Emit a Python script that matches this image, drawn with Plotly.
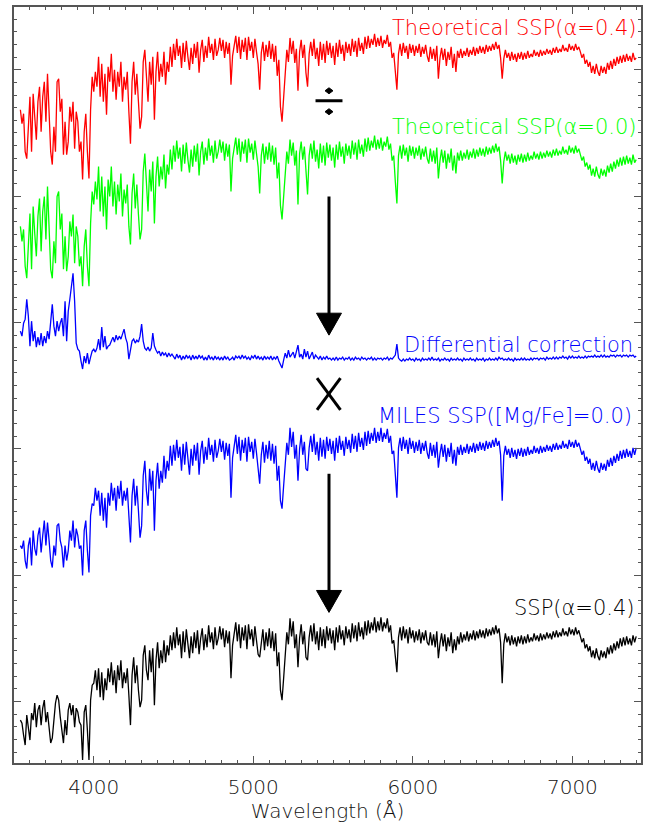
import plotly.graph_objects as go

# ---------------- data (flux in arbitrary offset units) ----------------
wavelength = list(range(3540, 7401, 10))

# --- Theoretical SSP(alpha=0.4)
flux_theo_a04_blue = [
    69.2, 67.8, 68.8, 65.0, 64.3, 67.0, 70.5, 65.0, 70.8, 68.5,
    66.2, 70.0, 71.5, 67.0, 70.5, 72.0, 68.0, 72.8, 69.0, 65.0,
    63.7, 67.5, 65.0, 72.0, 72.3, 69.0, 70.3, 64.7, 68.0, 64.7,
    66.0, 69.5, 68.0, 70.0, 65.3, 69.0, 68.0, 65.0, 66.0, 62.2,
    67.0, 68.8, 65.0, 62.3, 69.2, 72.5, 71.0, 73.0, 71.5, 74.5,
    70.5, 73.8, 70.0, 72.8, 68.7, 73.5, 72.0, 74.8, 71.0, 73.2,
    70.2, 73.0, 71.5, 74.0, 70.0, 72.5, 71.2, 73.0, 69.0, 65.8,
    72.0, 74.0, 70.7, 72.8, 70.0, 67.3, 68.5, 74.0, 75.2, 72.0,
    70.0, 74.0, 71.7, 74.5, 68.2, 73.0, 75.0, 72.0, 73.8, 72.5,
    75.0, 71.7, 74.0, 73.0, 75.5, 73.5,
]
flux_theo_a04_red = [
    75.8, 74.2, 76.3, 74.6, 75.6, 73.4, 75.9, 74.0, 76.1, 74.5,
    73.2, 75.4, 73.8, 75.8, 74.4, 76.0, 72.9, 75.2, 76.2, 74.0,
    75.6, 74.4, 76.5, 74.9, 75.8, 74.2, 76.3, 74.6, 75.2, 76.4,
    75.1, 76.2, 74.4, 76.0, 74.8, 75.9, 71.7, 74.6, 75.8, 76.6,
    74.9, 76.5, 74.3, 76.2, 75.0, 76.4, 74.2, 76.5, 75.1, 76.0,
    74.4, 76.3, 75.0, 73.8, 71.2, 74.9, 76.0, 74.1, 75.7, 74.5,
    76.1, 74.3, 75.8, 74.0, 75.6, 72.6, 74.2, 69.5, 68.0, 70.2,
    73.0, 75.2, 74.0, 76.4, 74.8, 76.1, 73.9, 75.3, 71.1, 75.0,
    76.2, 74.4, 75.7, 72.9, 71.5, 74.8, 76.0, 74.6, 76.3, 74.3,
    75.4, 73.6, 76.0, 74.2, 75.8, 73.9, 76.1, 74.7, 75.9, 74.4,
    75.6, 73.7, 75.9, 74.5, 76.2, 74.8, 75.7, 74.1, 76.0, 74.9,
    75.8, 74.6, 76.3, 75.0, 76.1, 74.5, 76.4, 75.1, 75.9, 74.8,
    76.5, 75.3, 76.6, 75.4, 76.3, 75.7, 76.8, 75.5, 76.4, 75.6,
    76.6, 75.4, 76.2, 75.8, 76.7, 75.5, 76.0, 74.4, 74.9, 72.6,
    71.2, 74.8, 75.8, 74.6, 75.9, 74.9, 75.6, 74.3, 75.8, 74.9,
    75.7, 74.6, 75.6, 74.9, 75.8, 74.5, 75.5, 74.8, 75.7, 74.6,
    74.0, 75.5, 74.3, 75.3, 74.1, 75.6, 72.3, 74.4, 75.4, 74.2,
    75.3, 73.6, 75.0, 74.2, 75.5, 73.4, 74.8, 73.0, 75.1, 74.4,
    75.3, 74.4, 75.1, 74.6, 75.4, 74.5, 75.2, 74.7, 75.5, 74.6,
    75.4, 74.8, 75.6, 74.9, 75.5, 74.8, 75.7, 75.0, 75.6, 75.1,
    75.8, 75.2, 76.0, 75.3, 75.7, 74.4, 72.3, 74.3, 75.2, 74.4,
    74.9, 74.1, 75.0, 74.2, 74.8, 74.0, 74.9, 74.3, 75.0, 74.2,
    74.9, 74.3, 75.1, 74.4, 74.8, 74.5, 75.2, 74.6, 75.0, 74.5,
    75.2, 74.6, 75.1, 74.7, 75.3, 74.8, 75.2, 74.7, 75.4, 74.9,
    75.5, 74.9, 75.3, 75.0, 75.7, 75.1, 75.4, 75.0, 75.8, 75.2,
    75.6, 75.1, 75.8, 75.2, 75.5, 75.0, 74.4, 74.8, 73.8, 74.2,
    73.5, 74.0, 72.9, 73.6, 72.8, 73.8, 73.0, 72.6, 73.6, 72.9,
    73.5, 72.8, 73.9, 73.2, 74.1, 73.3, 74.3, 73.6, 74.5, 73.8,
    74.6, 73.9, 74.7, 74.0, 74.8, 74.1, 74.6, 74.0, 74.9, 74.2,
    74.4,
]

# --- Theoretical SSP(alpha=0.0)
flux_theo_a00_blue = [
    57.5, 56.0, 57.2, 53.5, 52.3, 55.5, 58.8, 53.2, 59.5, 56.8,
    54.5, 58.5, 60.3, 55.0, 59.0, 60.5, 56.2, 61.5, 57.5, 53.2,
    52.3, 56.0, 53.8, 60.5, 61.0, 57.2, 58.8, 53.2, 56.5, 53.0,
    54.5, 58.0, 56.5, 58.7, 53.8, 57.5, 56.5, 53.5, 54.5, 51.5,
    55.5, 57.2, 53.5, 51.5, 57.8, 61.0, 59.7, 62.0, 60.2, 63.5,
    59.0, 62.5, 58.5, 61.5, 57.2, 62.2, 60.5, 63.5, 59.5, 62.0,
    58.7, 61.7, 60.0, 62.8, 58.5, 61.2, 59.8, 61.7, 57.5, 55.7,
    60.8, 62.8, 59.3, 61.7, 58.7, 56.2, 57.2, 63.0, 64.8, 61.2,
    59.0, 63.2, 61.0, 64.0, 57.8, 62.5, 64.5, 61.5, 63.5, 62.2,
    64.7, 61.3, 63.7, 62.7, 65.2, 63.2,
]
flux_theo_a00_red = [
    65.6, 64.0, 66.1, 64.3, 65.4, 63.0, 65.7, 63.8, 65.9, 64.2,
    62.9, 65.2, 63.5, 65.6, 64.0, 65.8, 62.6, 65.0, 66.0, 63.7,
    65.4, 64.1, 66.3, 64.6, 65.6, 63.9, 66.1, 64.3, 65.0, 66.2,
    64.9, 66.0, 64.1, 65.8, 64.5, 65.7, 61.0, 64.3, 65.6, 66.4,
    64.7, 66.3, 64.0, 66.0, 64.8, 66.2, 63.9, 66.3, 64.9, 65.8,
    64.2, 66.1, 64.8, 63.5, 60.8, 64.6, 65.8, 63.8, 65.5, 64.2,
    65.9, 64.0, 65.6, 63.7, 65.4, 62.3, 63.9, 59.6, 58.2, 60.2,
    62.8, 65.0, 63.8, 66.2, 64.6, 65.9, 63.6, 65.1, 59.7, 64.8,
    66.0, 64.2, 65.5, 62.6, 60.7, 64.6, 65.8, 64.3, 66.1, 64.0,
    65.2, 63.3, 65.8, 63.9, 65.6, 63.6, 65.9, 64.4, 65.7, 64.1,
    65.4, 63.4, 65.7, 64.2, 66.0, 64.5, 65.5, 63.8, 65.8, 64.6,
    65.6, 64.3, 66.1, 64.7, 65.9, 64.2, 66.2, 64.8, 65.7, 64.5,
    66.3, 65.0, 66.4, 65.1, 66.1, 65.4, 66.6, 65.2, 66.2, 65.3,
    66.4, 65.1, 66.0, 65.5, 66.5, 65.2, 65.8, 64.1, 64.6, 62.0,
    59.8, 64.6, 65.6, 64.3, 65.7, 64.6, 65.4, 64.0, 65.6, 64.6,
    65.5, 64.3, 65.4, 64.6, 65.6, 64.2, 65.3, 64.5, 65.5, 64.3,
    63.8, 65.3, 64.0, 65.1, 63.8, 65.4, 62.3, 64.1, 65.2, 63.9,
    65.1, 63.3, 64.8, 63.9, 65.3, 63.1, 64.6, 62.8, 64.9, 64.1,
    65.1, 64.1, 64.9, 64.3, 65.2, 64.2, 65.0, 64.4, 65.3, 64.3,
    65.2, 64.5, 65.4, 64.6, 65.3, 64.5, 65.5, 64.7, 65.4, 64.8,
    65.6, 64.9, 65.8, 65.0, 65.5, 64.1, 61.8, 64.0, 65.0, 64.1,
    64.7, 63.8, 64.8, 63.9, 64.6, 63.7, 64.7, 64.0, 64.8, 63.9,
    64.7, 64.0, 64.9, 64.1, 64.6, 64.2, 65.0, 64.3, 64.8, 64.2,
    65.0, 64.3, 64.9, 64.4, 65.1, 64.5, 65.0, 64.4, 65.2, 64.6,
    65.3, 64.6, 65.1, 64.7, 65.5, 64.8, 65.2, 64.7, 65.6, 64.9,
    65.4, 64.8, 65.6, 64.9, 65.3, 64.7, 64.1, 64.5, 63.5, 63.9,
    63.2, 63.7, 62.6, 63.3, 62.5, 63.5, 62.7, 62.3, 63.3, 62.6,
    63.2, 62.5, 63.6, 62.9, 63.8, 63.0, 64.0, 63.3, 64.2, 63.5,
    64.4, 63.6, 64.5, 63.7, 64.6, 63.8, 64.4, 63.7, 64.7, 63.9,
    64.2,
]

# --- Differential correction
flux_diff_corr_blue = [
    47.0, 46.5, 47.8, 48.2, 50.2, 48.5, 45.5, 48.0, 46.0, 47.0,
    45.4, 46.4, 45.6, 46.8, 45.5, 46.5, 45.8, 47.0, 46.2, 48.2,
    49.7, 47.5, 46.5, 48.0, 47.0, 47.8, 48.3, 46.5, 50.0, 46.0,
    49.0, 50.2, 51.5, 52.8, 50.0, 45.8, 45.2, 45.0, 44.0, 43.2,
    44.5, 43.8, 44.8, 43.7, 44.4, 45.0, 45.2, 44.9, 45.3, 46.2,
    45.1, 47.4, 45.4, 46.5, 45.2, 45.5, 45.6, 46.0, 46.4, 45.9,
    46.6, 46.1, 46.5, 46.2, 46.7, 47.2, 46.3, 45.8, 44.2, 45.3,
    46.0, 46.2, 45.8, 46.1, 45.9, 46.5, 47.7, 46.0, 45.3, 45.1,
    45.4, 45.0, 45.3, 46.8, 45.5, 45.1, 44.8, 45.0, 44.5, 44.9,
    44.6, 44.8, 44.4, 44.8, 44.5, 44.7,
]
flux_diff_corr_red = [
    44.5, 44.2, 44.7, 44.3, 44.6, 44.1, 44.5, 44.2, 44.6, 44.3,
    44.5, 44.1, 44.6, 44.2, 44.5, 44.2, 44.6, 44.3, 44.5, 44.1,
    44.4, 44.1, 44.6, 44.2, 44.4, 44.1, 44.5, 44.2, 44.4, 44.1,
    44.4, 44.1, 44.5, 44.2, 44.4, 44.1, 44.2, 44.4, 44.1, 44.5,
    44.3, 44.5, 44.2, 44.6, 44.3, 44.5, 44.2, 44.4, 44.1, 44.5,
    44.3, 44.6, 44.2, 44.5, 44.2, 44.4, 44.1, 44.5, 44.2, 44.4,
    44.2, 44.5, 44.1, 44.4, 44.2, 44.5, 44.0, 43.7, 43.3, 44.1,
    44.8, 44.3, 45.1, 44.4, 44.7, 44.9, 44.3, 45.0, 45.6, 44.4,
    44.7, 44.2, 45.2, 44.4, 45.0, 44.2, 44.6, 44.9, 44.2, 44.6,
    44.4, 44.2, 44.5, 44.1, 44.4, 44.2, 44.5, 44.2, 44.3, 44.1,
    44.3, 44.1, 44.4, 44.1, 44.3, 44.2, 44.4, 44.1, 44.3, 44.2,
    44.4, 44.1, 44.3, 44.1, 44.4, 44.2, 44.3, 44.1, 44.4, 44.2,
    44.3, 44.1, 44.3, 44.2, 44.4, 44.1, 44.3, 44.1, 44.3, 44.2,
    44.3, 44.1, 44.3, 44.2, 44.4, 44.1, 44.3, 44.2, 44.4, 44.6,
    45.7, 44.3, 44.1, 44.0, 44.2, 44.0, 44.2, 44.1, 44.3, 44.1,
    44.2, 44.0, 44.3, 44.1, 44.2, 44.0, 44.3, 44.1, 44.2, 44.1,
    44.3, 44.1, 44.4, 44.1, 44.2, 44.1, 44.3, 44.0, 44.2, 44.1,
    44.3, 44.1, 44.2, 44.0, 44.3, 44.1, 44.2, 44.1, 44.3, 44.1,
    44.2, 44.0, 44.3, 44.1, 44.2, 44.1, 44.3, 44.1, 44.2, 44.0,
    44.3, 44.1, 44.2, 44.1, 44.3, 44.0, 44.2, 44.1, 44.3, 44.1,
    44.2, 44.1, 44.3, 44.1, 44.4, 44.2, 44.3, 44.1, 44.2, 44.1,
    44.3, 44.1, 44.2, 44.0, 44.3, 44.1, 44.2, 44.1, 44.3, 44.1,
    44.3, 44.1, 44.2, 44.1, 44.3, 44.1, 44.3, 44.2, 44.3, 44.1,
    44.3, 44.2, 44.3, 44.1, 44.4, 44.2, 44.3, 44.2, 44.4, 44.2,
    44.4, 44.2, 44.4, 44.3, 44.5, 44.3, 44.4, 44.2, 44.5, 44.3,
    44.5, 44.3, 44.4, 44.3, 44.5, 44.3, 44.4, 44.3, 44.5, 44.3,
    44.5, 44.4, 44.5, 44.4, 44.6, 44.4, 44.5, 44.4, 44.6, 44.4,
    44.6, 44.4, 44.5, 44.4, 44.6, 44.5, 44.6, 44.4, 44.6, 44.5,
    44.6, 44.4, 44.6, 44.5, 44.6, 44.4, 44.6, 44.5, 44.6, 44.4,
    44.5,
]

# --- MILES SSP([Mg/Fe]=0.0)
flux_miles_blue = [
    25.5, 25.2, 26.0, 24.0, 23.2, 25.5, 26.3, 23.5, 27.0, 25.2,
    24.5, 26.5, 27.3, 24.8, 26.5, 28.0, 25.5, 27.8, 26.0, 24.0,
    23.3, 25.5, 24.5, 27.5, 27.7, 26.0, 25.3, 23.3, 25.5, 24.0,
    25.0, 27.0, 26.0, 28.0, 25.3, 27.2, 26.5, 25.2, 25.5, 22.5,
    27.0, 28.0, 25.0, 22.8, 28.5, 29.7, 29.5, 31.3, 30.0, 31.0,
    28.5, 30.8, 28.0, 30.3, 27.3, 30.8, 29.5, 31.8, 30.0, 31.3,
    29.0, 31.5, 30.2, 32.0, 29.5, 31.0, 30.0, 31.3, 28.5, 25.8,
    30.5, 32.2, 29.5, 31.5, 29.0, 26.3, 27.5, 32.5, 34.0, 31.0,
    29.5, 33.2, 31.0, 33.0, 27.0, 32.0, 33.8, 31.2, 33.0, 31.8,
    34.5, 32.2, 34.0, 33.0, 35.5, 33.5,
]
flux_miles_red = [
    35.6, 34.0, 36.1, 34.3, 35.4, 33.0, 35.7, 33.6, 35.9, 34.2,
    32.6, 35.2, 33.5, 35.6, 34.0, 35.8, 32.6, 35.0, 36.0, 33.7,
    35.4, 34.1, 36.3, 34.6, 35.6, 33.9, 36.1, 34.3, 35.0, 36.2,
    34.9, 36.0, 34.1, 35.8, 34.5, 35.7, 30.3, 34.3, 35.6, 36.6,
    34.7, 36.4, 34.0, 36.1, 34.8, 36.3, 33.9, 36.4, 34.9, 35.9,
    34.2, 36.2, 34.8, 33.3, 31.7, 34.6, 35.9, 33.8, 35.6, 34.2,
    36.0, 34.0, 35.7, 33.7, 35.5, 32.0, 33.5, 30.0, 29.2, 31.5,
    33.5, 35.8, 34.6, 37.3, 35.4, 36.9, 34.2, 35.6, 32.0, 35.2,
    36.6, 34.6, 35.9, 33.2, 33.0, 35.3, 36.5, 34.9, 36.7, 34.6,
    35.9, 34.0, 36.3, 34.4, 36.1, 34.2, 36.4, 35.0, 36.2, 34.7,
    36.0, 34.0, 36.3, 34.8, 36.5, 35.1, 36.0, 34.5, 36.4, 35.2,
    36.1, 34.8, 36.7, 35.2, 36.5, 34.9, 36.8, 35.4, 36.3, 35.1,
    36.9, 35.5, 37.0, 35.7, 36.8, 36.0, 37.3, 35.8, 36.9, 36.0,
    37.3, 35.9, 36.8, 36.2, 37.2, 35.8, 36.5, 34.7, 35.0, 32.8,
    30.3, 35.3, 36.3, 35.0, 36.4, 35.2, 36.1, 34.7, 36.3, 35.2,
    36.0, 34.8, 35.9, 35.0, 36.1, 34.7, 35.8, 35.0, 36.0, 34.8,
    34.2, 35.8, 34.5, 35.6, 34.3, 35.9, 33.3, 34.7, 35.7, 34.4,
    35.6, 33.9, 35.3, 34.4, 35.8, 33.7, 35.1, 33.5, 35.4, 34.6,
    35.6, 34.6, 35.4, 34.8, 35.7, 34.7, 35.5, 34.9, 35.8, 34.8,
    35.7, 35.0, 35.9, 35.1, 35.8, 35.0, 36.0, 35.2, 35.9, 35.3,
    36.1, 35.4, 36.3, 35.5, 36.0, 34.6, 30.0, 34.5, 35.5, 34.6,
    35.2, 34.3, 35.3, 34.4, 35.1, 34.2, 35.2, 34.5, 35.3, 34.4,
    35.2, 34.5, 35.4, 34.6, 35.1, 34.7, 35.5, 34.8, 35.3, 34.7,
    35.5, 34.8, 35.4, 34.9, 35.6, 35.0, 35.5, 34.9, 35.7, 35.1,
    35.8, 35.1, 35.6, 35.2, 36.0, 35.3, 35.7, 35.2, 36.1, 35.4,
    35.9, 35.3, 36.1, 35.4, 35.8, 35.2, 34.6, 35.0, 34.0, 34.4,
    33.7, 34.2, 33.1, 33.8, 33.0, 34.0, 33.2, 32.8, 33.8, 33.1,
    33.7, 33.0, 34.1, 33.4, 34.3, 33.5, 34.5, 33.8, 34.7, 34.0,
    35.0, 34.2, 35.1, 34.3, 35.2, 34.4, 35.0, 34.3, 35.3, 34.6,
    35.3,
]

# --- SSP(alpha=0.4)
flux_ssp_a04_blue = [
    8.0, 7.7, 6.5, 5.5, 8.5, 7.2, 6.0, 8.7, 8.0, 9.7,
    7.3, 9.0, 9.5, 7.5, 9.2, 10.0, 7.8, 8.8, 7.0, 5.7,
    6.2, 8.0, 9.7, 10.5, 10.0, 8.3, 7.0, 5.7, 8.0, 6.5,
    9.0, 9.7, 8.5, 9.5, 7.3, 9.2, 8.8, 7.8, 7.5, 4.0,
    8.8, 9.5, 7.0, 4.0, 10.0, 11.5, 11.7, 13.0, 11.0, 13.2,
    10.3, 12.8, 10.0, 12.2, 11.0, 13.2, 11.8, 13.8, 11.5, 13.0,
    10.7, 13.5, 12.0, 14.0, 11.2, 12.8, 11.7, 13.2, 10.5, 7.5,
    12.5, 14.3, 11.7, 13.5, 11.0, 9.3, 10.0, 14.5, 15.5, 13.0,
    12.0, 15.0, 12.8, 15.2, 9.5, 14.0, 15.8, 13.2, 15.0, 13.7,
    16.0, 13.8, 15.5, 14.5, 16.5, 15.0,
]
flux_ssp_a04_red = [
    16.8, 15.2, 17.3, 15.5, 16.6, 14.2, 16.9, 14.8, 17.1, 15.4,
    14.2, 16.4, 14.7, 16.8, 15.2, 17.0, 14.6, 16.2, 17.2, 15.0,
    16.6, 15.3, 17.5, 15.8, 16.8, 15.1, 17.3, 15.5, 16.2, 17.4,
    16.1, 17.2, 15.3, 17.0, 15.7, 16.9, 12.2, 15.5, 16.8, 17.8,
    15.9, 17.6, 15.2, 17.3, 16.0, 17.5, 15.1, 17.6, 16.1, 17.1,
    15.4, 17.4, 16.0, 14.6, 14.3, 15.8, 17.1, 15.0, 16.8, 15.4,
    17.2, 15.2, 16.9, 14.9, 16.7, 13.4, 14.8, 11.0, 10.0, 12.2,
    14.5, 16.8, 15.6, 18.2, 16.4, 17.9, 15.2, 16.6, 13.3, 16.2,
    17.6, 15.6, 16.9, 14.3, 14.0, 16.3, 17.5, 15.9, 17.7, 15.6,
    16.9, 15.0, 17.3, 15.4, 17.1, 15.2, 17.4, 16.0, 17.2, 15.7,
    17.0, 15.0, 17.3, 15.8, 17.5, 16.1, 17.0, 15.5, 17.4, 16.2,
    17.1, 15.8, 17.7, 16.2, 17.5, 15.9, 17.8, 16.4, 17.3, 16.1,
    17.9, 16.5, 18.0, 16.7, 17.8, 17.0, 18.3, 16.8, 17.9, 17.0,
    18.3, 16.9, 17.8, 17.2, 18.2, 16.8, 17.5, 15.7, 16.0, 14.2,
    12.8, 16.3, 17.3, 16.0, 17.4, 16.2, 17.1, 15.7, 17.3, 16.2,
    17.0, 15.8, 16.9, 16.0, 17.1, 15.7, 16.8, 16.0, 17.0, 15.8,
    15.5, 16.8, 15.5, 16.6, 15.3, 16.9, 14.2, 15.7, 16.7, 15.4,
    16.6, 14.9, 16.3, 15.4, 16.8, 14.7, 16.1, 15.0, 16.4, 15.6,
    16.8, 15.8, 16.6, 16.0, 16.9, 15.9, 16.7, 16.1, 17.0, 16.0,
    16.9, 16.2, 17.1, 16.3, 17.0, 16.2, 17.2, 16.4, 17.1, 16.5,
    17.3, 16.6, 17.5, 16.7, 17.2, 15.8, 11.7, 15.6, 16.7, 15.8,
    16.4, 15.5, 16.5, 15.6, 16.3, 15.4, 16.4, 15.7, 16.5, 15.6,
    16.4, 15.7, 16.6, 15.8, 16.3, 15.9, 16.7, 16.0, 16.5, 15.9,
    16.7, 16.0, 16.6, 16.1, 16.8, 16.2, 16.7, 16.1, 16.9, 16.3,
    17.0, 16.3, 16.8, 16.4, 17.2, 16.5, 16.9, 16.4, 17.3, 16.6,
    17.1, 16.5, 17.3, 16.6, 17.0, 16.4, 15.8, 16.2, 15.2, 15.6,
    14.9, 15.4, 14.3, 15.0, 14.2, 15.2, 14.4, 14.0, 15.0, 14.3,
    14.9, 14.2, 15.3, 14.6, 15.5, 14.7, 15.7, 15.0, 15.9, 15.2,
    16.2, 15.4, 16.3, 15.5, 16.4, 15.6, 16.2, 15.5, 16.5, 15.8,
    16.4,
]

series_names = ["Theoretical SSP(α=0.4)", "Theoretical SSP(α=0.0)",
                "Differential correction", "MILES SSP([Mg/Fe]=0.0)", "SSP(α=0.4)"]
series_colors = ["#ff0000", "#00ff00", "#0000ff", "#0000ff", "#000000"]
series_flux = [flux_theo_a04_blue + flux_theo_a04_red,
               flux_theo_a00_blue + flux_theo_a00_red,
               flux_diff_corr_blue + flux_diff_corr_red,
               flux_miles_blue + flux_miles_red,
               flux_ssp_a04_blue + flux_ssp_a04_red]

# ---------------- figure ----------------
W, H = 648, 825
L, R, T, B = 14, 642, 5, 763
FONT = "DejaVu Sans"


def fx(p):
    return (p - L) / (R - L)


def fy(p):
    return (B - p) / (B - T)


fig = go.Figure()
for name, col, flux in zip(series_names, series_colors, series_flux):
    fig.add_trace(go.Scatter(x=wavelength, y=flux, mode="lines", name=name,
                             line=dict(color=col, width=1.3), showlegend=False,
                             hoverinfo="skip"))

# labels (right aligned)
label_x = [640, 640, 636, 635, 638]
label_y = [26, 125, 344, 415, 608]
label_col = ["#ff0000", "#00ff00", "#0000ff", "#0000ff", "#000000"]
for name, xx, yy, col in zip(series_names, label_x, label_y, label_col):
    fig.add_annotation(x=fx(xx), y=fy(yy), xref="paper", yref="paper",
                       text=name, showarrow=False, xanchor="right", yanchor="middle",
                       font=dict(family=FONT, size=21, color=col, weight=200))

# operator symbols
blk = dict(color="black", width=3)
shapes = []
shapes.append(dict(type="line", xref="paper", yref="paper",
                   x0=fx(316), x1=fx(343), y0=fy(99), y1=fy(99), line=blk))
for cy in (89, 110):
    shapes.append(dict(type="path", xref="paper", yref="paper",
                       path=f"M {fx(325.5)} {fy(cy)} L {fx(329.5)} {fy(cy-3)} L {fx(333.5)} {fy(cy)} L {fx(329.5)} {fy(cy+3)} Z",
                       fillcolor="black", line=dict(color="black", width=1)))
for y0, y1 in ((195, 313), (473, 591)):
    shapes.append(dict(type="line", xref="paper", yref="paper",
                       x0=fx(329.5), x1=fx(329.5), y0=fy(y0), y1=fy(y1), line=blk))
    shapes.append(dict(type="path", xref="paper", yref="paper",
                       path=f"M {fx(317)} {fy(y1-1)} L {fx(342)} {fy(y1-1)} L {fx(329.5)} {fy(y1+21)} Z",
                       fillcolor="black", line=dict(color="black", width=1)))
shapes.append(dict(type="line", xref="paper", yref="paper",
                   x0=fx(317.5), x1=fx(341), y0=fy(377), y1=fy(409), line=blk))
shapes.append(dict(type="line", xref="paper", yref="paper",
                   x0=fx(341), x1=fx(317.5), y0=fy(377), y1=fy(409), line=blk))

axis_col = "#555555"
fig.update_layout(
    width=W, height=H,
    margin=dict(l=L, r=W - R, t=T, b=H - B),
    paper_bgcolor="white", plot_bgcolor="white",
    shapes=shapes,
    xaxis=dict(range=[3500, 7430], showline=True, linecolor=axis_col, linewidth=1.5,
               mirror="ticks", ticks="inside", ticklen=7, tickwidth=1.2, tickcolor=axis_col,
               tick0=0, dtick=1000, showgrid=False, zeroline=False,
               ticklabelstandoff=5,
               minor=dict(dtick=100, tick0=0, ticks="inside", ticklen=3.5, tickwidth=1.2,
                          tickcolor=axis_col, showgrid=False),
               tickfont=dict(family=FONT, size=20, color="#111111", weight=200),
               title=dict(text="Wavelength (Å)", standoff=4,
                          font=dict(family=FONT, size=20, color="#111111", weight=200))),
    yaxis=dict(range=[3.7, 79.5], showline=True, linecolor=axis_col, linewidth=1.5,
               mirror="ticks", ticks="inside", ticklen=7, tickwidth=1.2, tickcolor=axis_col,
               tick0=9.87, dtick=12.667, showgrid=False, zeroline=False, showticklabels=False,
               minor=dict(tick0=9.87, dtick=1.2667, ticks="inside", ticklen=3.5, tickwidth=1.2,
                          tickcolor=axis_col, showgrid=False)),
)

fig.write_html("out.html", config={"displayModeBar": False},
               post_script="document.body.style.margin='0px';")
